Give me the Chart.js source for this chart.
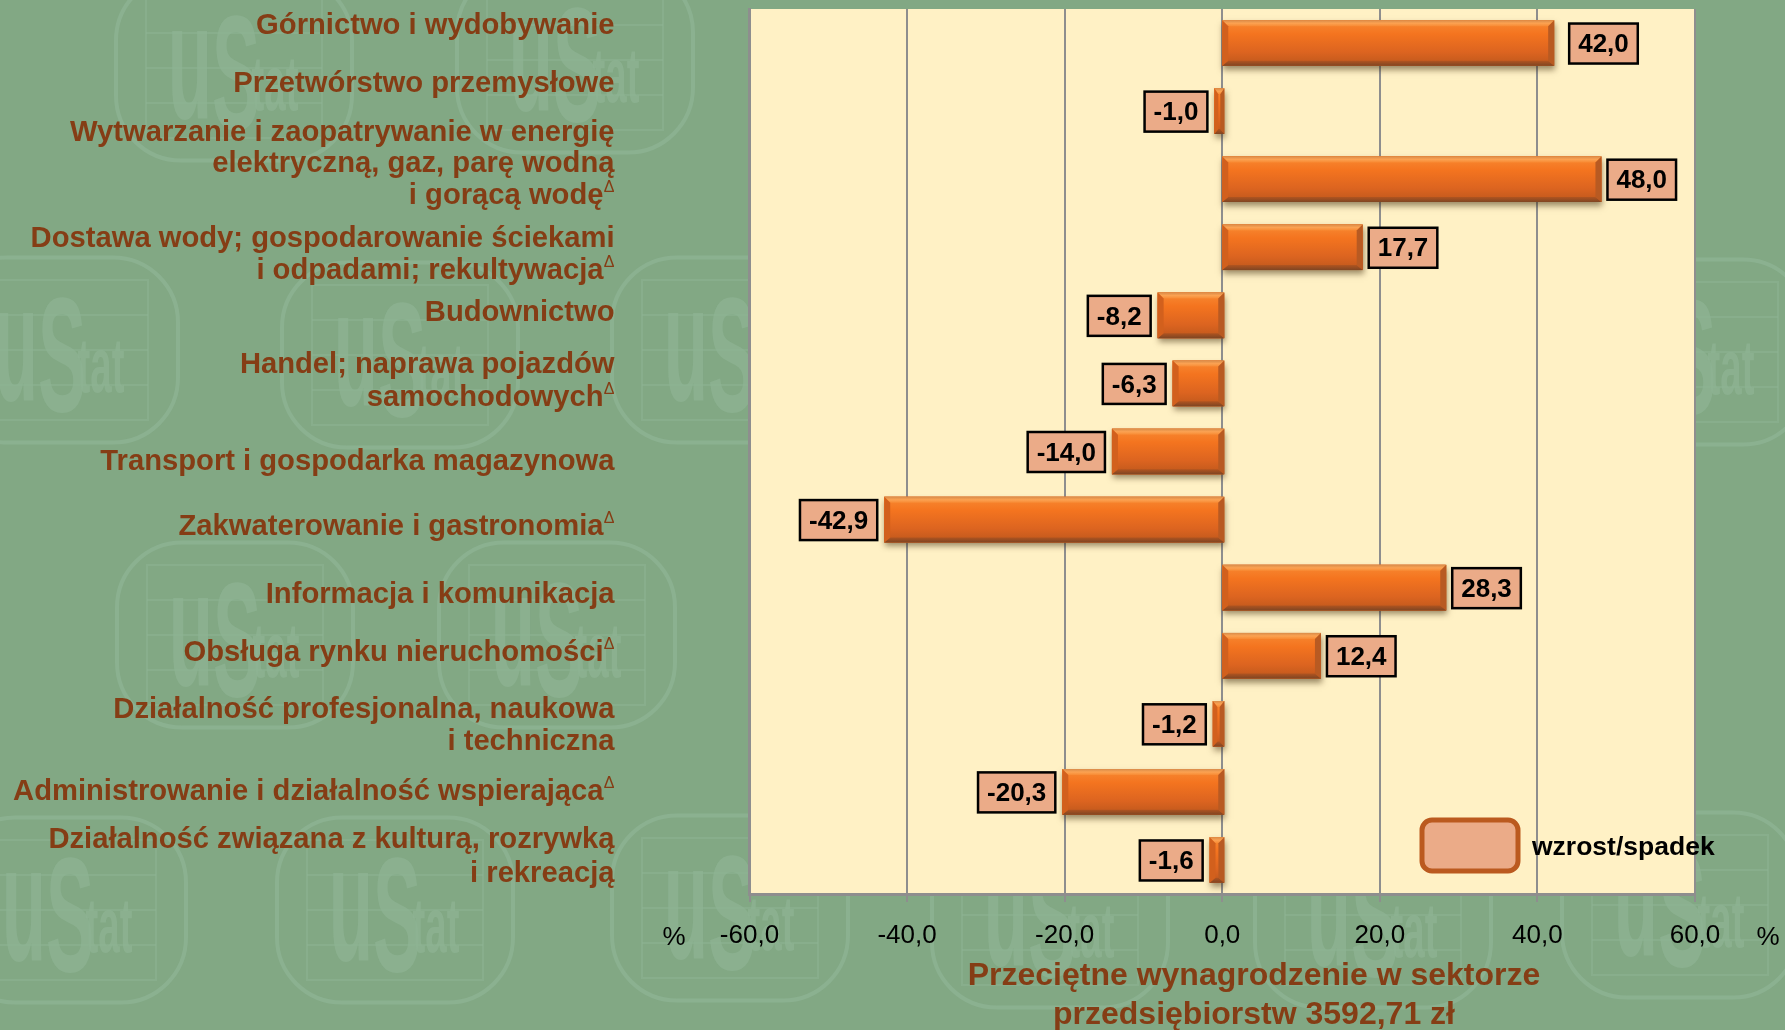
<!DOCTYPE html>
<html>
<head>
<meta charset="utf-8">
<title>Przeciętne wynagrodzenie</title>
<script src="https://cdn.jsdelivr.net/npm/chart.js@4"></script>
<style>
body { margin: 0; background: #82a884; }
canvas { display: block; }
</style>
</head>
<body>
<canvas id="canvas-chart" width="1785" height="1030"></canvas>
<script>
const categories = [
    ['Górnictwo i wydobywanie'],
    ['Przetwórstwo przemysłowe'],
    ['Wytwarzanie i zaopatrywanie w energię', 'elektryczną, gaz, parę wodną', 'i gorącą wodęΔ'],
    ['Dostawa wody; gospodarowanie ściekami', 'i odpadami; rekultywacjaΔ'],
    ['Budownictwo'],
    ['Handel; naprawa pojazdów', 'samochodowychΔ'],
    ['Transport i gospodarka magazynowa'],
    ['Zakwaterowanie i gastronomiaΔ'],
    ['Informacja i komunikacja'],
    ['Obsługa rynku nieruchomościΔ'],
    ['Działalność profesjonalna, naukowa', 'i techniczna'],
    ['Administrowanie i działalność wspierającaΔ'],
    ['Działalność związana z kulturą, rozrywką', 'i rekreacją']
];
const values = [42.0, -1.0, 48.0, 17.7, -8.2, -6.3, -14.0, -42.9, 28.3, 12.4, -1.2, -20.3, -1.6];
const seriesName = 'wzrost/spadek';
const axisTitle = ['Przeciętne wynagrodzenie w sektorze', 'przedsiębiorstw 3592,71 zł'];

// reference labels do not sit on the bar centres, so their lines are placed by hand
const labelLineY = [[26], [84], [133, 164, 196], [239, 271], [313], [365, 398], [462], [527], [595], [653], [710, 742], [792], [840, 874]];
const labelGap = [16, 7, 7, 7, 7, 7, 7, 7, 7, 7, 7, 7, 7];
const logoSpots = [[234, 68], [575, 60], [60, 350], [400, 355], [730, 350], [1690, 352], [235, 635], [557, 635], [68, 910], [395, 910], [730, 908], [1050, 915], [1373, 915], [1680, 905]];

const fontName = '"Liberation Sans", Arial, sans-serif';
const brown = '#853d15';

function comma(v) {
    return Number(v).toFixed(1).replace('.', ',');
}

function drawLogo(ctx, cx, cy) {
    const w = 236, h = 185;
    ctx.save();
    ctx.translate(cx, cy);
    ctx.strokeStyle = '#8db393';
    ctx.fillStyle = '#8db393';
    ctx.lineWidth = 4;
    ctx.globalAlpha = 0.8;
    ctx.beginPath();
    ctx.roundRect(-w / 2, -h / 2, w, h, 65);
    ctx.stroke();
    ctx.lineWidth = 2;
    ctx.globalAlpha = 0.5;
    ctx.strokeRect(-88, -70, 176, 140);
    for (let i = 1; i < 4; i++) {
        ctx.beginPath();
        ctx.moveTo(-88, -70 + i * 35);
        ctx.lineTo(88, -70 + i * 35);
        ctx.stroke();
    }
    ctx.globalAlpha = 0.75;
    ctx.textAlign = 'center';
    ctx.textBaseline = 'alphabetic';
    ctx.save();
    ctx.translate(-44, 50);
    ctx.scale(0.44, 1);
    ctx.font = 'bold 165px ' + fontName;
    ctx.fillText('u', 0, 0);
    ctx.restore();
    ctx.save();
    ctx.translate(2, 61);
    ctx.scale(0.44, 1);
    ctx.font = 'bold 164px ' + fontName;
    ctx.fillText('S', 0, 0);
    ctx.restore();
    ctx.save();
    ctx.translate(41, 42);
    ctx.scale(0.5, 1);
    ctx.font = 'bold 77px ' + fontName;
    ctx.fillText('tat', 0, 0);
    ctx.restore();
    ctx.restore();
}

const backdrop = {
    id: 'backdrop',
    beforeDraw(chart) {
        const ctx = chart.ctx;
        const area = chart.chartArea;
        ctx.save();
        ctx.fillStyle = '#82a884';
        ctx.fillRect(0, 0, chart.width, chart.height);
        logoSpots.forEach(s => drawLogo(ctx, s[0], s[1]));
        ctx.fillStyle = '#fff1c5';
        ctx.fillRect(area.left, area.top, area.right - area.left, area.bottom - area.top);
        ctx.restore();
    }
};

const bevelBars = {
    id: 'bevelBars',
    beforeDatasetsDraw(chart) {
        const ctx = chart.ctx;
        ctx.save();
        ctx.shadowColor = 'rgba(60, 40, 10, 0.5)';
        ctx.shadowBlur = 6;
        ctx.shadowOffsetY = 4;
        ctx.shadowOffsetX = 1;
        ctx.fillStyle = '#a5521c';
        chart.getDatasetMeta(0).data.forEach((bar, i) => {
            const x0 = Math.min(bar.x, bar.base) - (values[i] > 0 ? 1 : 0);
            const x1 = Math.max(bar.x, bar.base) + (values[i] < 0 ? 3 : 1);
            ctx.fillRect(x0, bar.y - bar.height / 2, x1 - x0, bar.height);
        });
        ctx.restore();
    },
    afterDatasetsDraw(chart) {
        const ctx = chart.ctx;
        ctx.save();
        chart.getDatasetMeta(0).data.forEach((bar, i) => {
            const x0 = Math.min(bar.x, bar.base) - (values[i] > 0 ? 1 : 0);
            const x1 = Math.max(bar.x, bar.base) + (values[i] < 0 ? 3 : 1);
            const y0 = bar.y - bar.height / 2;
            const y1 = bar.y + bar.height / 2;
            const b = Math.min(6, (x1 - x0) / 2.5);
            const face = ctx.createLinearGradient(0, y0, 0, y1);
            face.addColorStop(0, '#f88a33');
            face.addColorStop(0.3, '#f4741f');
            face.addColorStop(0.7, '#dc6420');
            face.addColorStop(1, '#bd571c');
            ctx.fillStyle = face;
            ctx.fillRect(x0, y0, x1 - x0, y1 - y0);
            // bevel edges
            const top = ctx.createLinearGradient(0, y0, 0, y0 + 6);
            top.addColorStop(0, '#d98c4a');
            top.addColorStop(0.5, '#fba252');
            top.addColorStop(1, '#f88a33');
            ctx.fillStyle = top;
            ctx.beginPath();
            ctx.moveTo(x0, y0); ctx.lineTo(x1, y0); ctx.lineTo(x1 - b, y0 + 6); ctx.lineTo(x0 + b, y0 + 6);
            ctx.fill();
            const bottom = ctx.createLinearGradient(0, y1 - 5, 0, y1);
            bottom.addColorStop(0, '#b05420');
            bottom.addColorStop(1, '#7f4522');
            ctx.fillStyle = bottom;
            ctx.beginPath();
            ctx.moveTo(x0, y1); ctx.lineTo(x1, y1); ctx.lineTo(x1 - b, y1 - 5); ctx.lineTo(x0 + b, y1 - 5);
            ctx.fill();
            ctx.fillStyle = '#d2601d';
            ctx.beginPath();
            ctx.moveTo(x0, y0); ctx.lineTo(x0 + b, y0 + 6); ctx.lineTo(x0 + b, y1 - 5); ctx.lineTo(x0, y1);
            ctx.fill();
            ctx.fillStyle = '#b85a22';
            ctx.beginPath();
            ctx.moveTo(x1, y0); ctx.lineTo(x1 - b, y0 + 6); ctx.lineTo(x1 - b, y1 - 5); ctx.lineTo(x1, y1);
            ctx.fill();
        });
        ctx.restore();
    }
};

const annotations = {
    id: 'annotations',
    afterDraw(chart) {
        const ctx = chart.ctx;
        const bars = chart.getDatasetMeta(0).data;
        ctx.save();
        ctx.textBaseline = 'middle';

        // value boxes
        ctx.font = 'bold 26px ' + fontName;
        bars.forEach((bar, i) => {
            const text = comma(values[i]);
            const w = ctx.measureText(text).width + 18;
            const h = 40;
            const x = values[i] < 0 ? bar.x - labelGap[i] - w : bar.x + labelGap[i];
            const y = bar.y - h / 2 + 0.5;
            ctx.fillStyle = '#ebab88';
            ctx.strokeStyle = '#000';
            ctx.lineWidth = 2.5;
            ctx.fillRect(x, y, w, h);
            ctx.strokeRect(x, y, w, h);
            ctx.fillStyle = '#000';
            ctx.textAlign = 'center';
            ctx.fillText(text, x + w / 2, bar.y + 2);
        });

        // category labels
        ctx.textAlign = 'right';
        categories.forEach((lines, i) => {
            lines.forEach((line, j) => {
                let right = 614.5;
                let text = line;
                if (line.endsWith('Δ')) {
                    text = line.slice(0, -1);
                    ctx.font = '16px ' + fontName;
                    ctx.fillStyle = brown;
                    ctx.fillText('Δ', right, labelLineY[i][j] - 8);
                    right -= 11;
                }
                ctx.font = 'bold 29.2px ' + fontName;
                ctx.fillStyle = brown;
                ctx.fillText(text, right, labelLineY[i][j]);
            });
        });

        // axis title and percent signs
        ctx.textAlign = 'center';
        ctx.font = 'bold 32px ' + fontName;
        ctx.fillStyle = brown;
        ctx.fillText(axisTitle[0], 1254, 976);
        ctx.fillText(axisTitle[1], 1254, 1015);
        ctx.font = '26px ' + fontName;
        ctx.fillStyle = '#000';
        ctx.fillText('%', 674, 938);
        ctx.fillText('%', 1768, 938);

        // legend
        ctx.beginPath();
        ctx.roundRect(1422, 820, 96, 51, 10);
        ctx.fillStyle = '#ebab88';
        ctx.fill();
        ctx.lineWidth = 5;
        ctx.strokeStyle = '#bb5a1f';
        ctx.stroke();
        ctx.textAlign = 'left';
        ctx.font = 'bold 26.5px ' + fontName;
        ctx.fillStyle = '#000';
        ctx.fillText(seriesName, 1532, 848);
        ctx.restore();
    }
};

let ctx = document.getElementById('canvas-chart').getContext('2d');

new Chart(ctx, {
    type: 'bar',
    data: {
        labels: categories,
        datasets: [{
            label: seriesName,
            data: values,
            backgroundColor: '#e96a20',
            barPercentage: 0.67,
            categoryPercentage: 1
        }]
    },
    options: {
        indexAxis: 'y',
        responsive: false,
        animation: false,
        layout: { autoPadding: false, padding: { top: 9, right: 90 } },
        plugins: {
            legend: { display: false },
            tooltip: { enabled: false }
        },
        scales: {
            x: {
                min: -60,
                max: 60,
                afterFit(scale) { scale.height = 136; },
                border: { color: '#8e8e8e', width: 3 },
                grid: { color: '#8e8e8e', lineWidth: 2, tickLength: 8, drawTicks: true },
                ticks: {
                    stepSize: 20,
                    maxRotation: 0,
                    color: '#000',
                    padding: 18,
                    font: { family: 'Liberation Sans', size: 26 },
                    callback: v => comma(v)
                }
            },
            y: {
                afterFit(scale) { scale.width = 749.5; },
                border: { color: '#8e8e8e', width: 3 },
                grid: { display: false },
                ticks: { display: false }
            }
        }
    },
    plugins: [backdrop, bevelBars, annotations]
});
</script>
</body>
</html>
